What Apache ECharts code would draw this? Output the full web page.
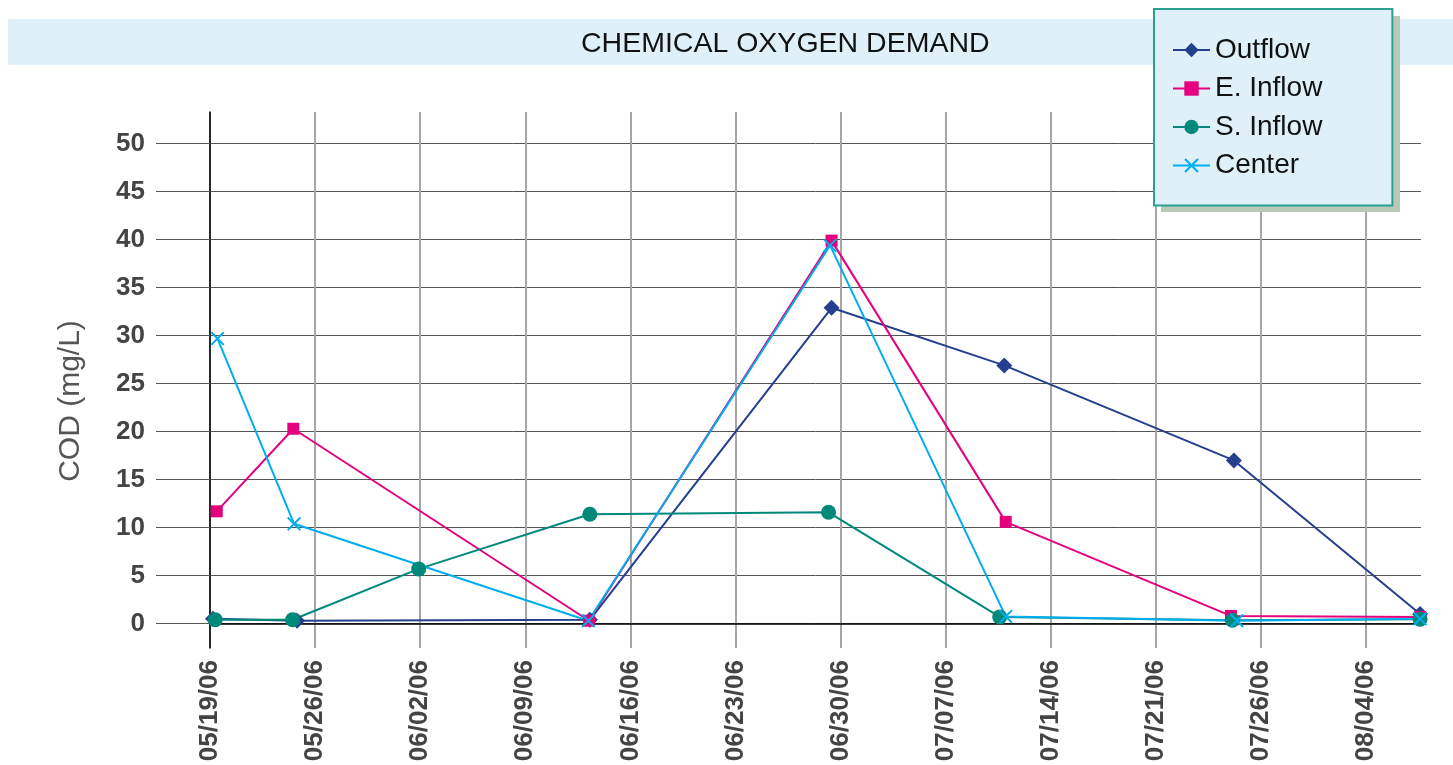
<!DOCTYPE html>
<html>
<head>
<meta charset="utf-8">
<script src="https://cdn.jsdelivr.net/npm/echarts@6/dist/echarts.min.js"></script>
<style>
html,body{margin:0;padding:0;background:#fff;}
#chart{width:1453px;height:765px;}
</style>
</head>
<body>
<div id="chart"></div>
<script>
// Days since 05/19/06 and COD (mg/L) values
const tickDays   = [0, 7, 14, 21, 28, 35, 42, 49, 56, 63, 70, 77];
const tickLabels = ['05/19/06','05/26/06','06/02/06','06/09/06','06/16/06','06/23/06',
                    '06/30/06','07/07/06','07/14/06','07/21/06','07/26/06','08/04/06'];
const yTicks     = [0, 5, 10, 15, 20, 25, 30, 35, 40, 45, 50];

const outflowDays  = [0.2, 5.8, 25.3, 41.4, 52.9, 68.2, 80.6];
const outflowVals  = [0.5, 0.3, 0.4, 32.9, 26.9, 17.0, 1.0];

const eInflowDays  = [0.45, 5.55, 25.25, 41.4, 53.0, 68.0, 80.6];
const eInflowVals  = [11.7, 20.3, 0.3, 39.9, 10.6, 0.8, 0.7];

const sInflowDays  = [0.35, 5.5, 13.9, 25.3, 41.2, 52.6, 68.1, 80.6];
const sInflowVals  = [0.4, 0.4, 5.7, 11.4, 11.6, 0.7, 0.35, 0.45];

const centerDays   = [0.5, 5.6, 25.2, 41.3, 53.0, 68.4, 80.6];
const centerVals   = [29.7, 10.4, 0.3, 39.4, 0.75, 0.3, 0.5];

const pairs = (d, v) => d.map((x, i) => [x, v[i]]);

const crossPath = 'path://M0,1L1,0L10,9L9,10ZM9,0L10,1L1,10L0,9Z';

const chart = echarts.init(document.getElementById('chart'), null, {renderer: 'canvas'});

const mk = (name, data, color, symbol, size) => ({
  name: name,
  type: 'line',
  data: data,
  symbol: symbol,
  symbolSize: size,
  showAllSymbol: true,
  clip: false,
  lineStyle: {color: color, width: 2},
  itemStyle: {color: color},
  emphasis: {disabled: true},
  animation: false
});

chart.setOption({
  animation: false,
  backgroundColor: '#ffffff',
  textStyle: {fontFamily: 'Liberation Sans'},
  graphic: [{
    type: 'rect', z: -10, silent: true,
    shape: {x: 8, y: 19, width: 1445, height: 46},
    style: {fill: '#dff0f8'}
  }, {
    type: 'rect', z: 3, silent: true,
    shape: {x: 1161, y: 16, width: 239, height: 196},
    style: {fill: '#b8c8b8'}
  }],
  title: {
    text: 'CHEMICAL OXYGEN DEMAND',
    left: 581, top: 27, padding: 0,
    textStyle: {fontFamily: 'Liberation Sans', fontSize: 28.5, fontWeight: 'normal', color: '#111', lineHeight: 34}
  },
  legend: {
    orient: 'vertical',
    left: 1154, top: 9,
    padding: [26, 70, 25, 18],
    itemGap: 8.5,
    itemWidth: 37, itemHeight: 18,
    z: 5,
    backgroundColor: '#dff0f8',
    borderColor: '#2aa08f', borderWidth: 2, borderRadius: 0,
    textStyle: {fontFamily: 'Liberation Sans', fontSize: 28, color: '#111', lineHeight: 30},
    data: ['Outflow', 'E. Inflow', 'S. Inflow', 'Center']
  },
  grid: {left: 210, right: 32, top: 112, bottom: 117, containLabel: false},
  xAxis: {
    type: 'value',
    min: 0, max: 80.66, interval: 7,
    axisLine: {onZero: true, lineStyle: {color: '#000', width: 1.5}},
    axisTick: {show: false, customValues: tickDays},
    splitLine: {show: true, lineStyle: {color: '#a6a6a6', width: 2}},
    axisLabel: {
      customValues: tickDays,
      rotate: 90, margin: 12,
      fontFamily: 'Liberation Sans', fontSize: 26, fontWeight: 'bold', color: '#444',
      formatter: v => { const i = tickDays.indexOf(v); return i >= 0 ? tickLabels[i] : ''; }
    }
  },
  yAxis: {
    type: 'value',
    min: -2.54, max: 53.3,
    name: 'COD (mg/L)', nameLocation: 'middle', nameGap: 124, nameRotate: 90,
    nameTextStyle: {fontFamily: 'Liberation Sans', fontSize: 30, color: '#555', padding: [0, 42, 0, 0]},
    axisLine: {show: true, lineStyle: {color: '#000', width: 1.5}},
    axisTick: {show: true, length: 54, customValues: yTicks, lineStyle: {color: '#555', width: 1}},
    splitLine: {show: true, lineStyle: {color: '#555', width: 1}},
    axisLabel: {
      customValues: yTicks, margin: 65,
      fontFamily: 'Liberation Sans', fontSize: 26, fontWeight: 'bold', color: '#444'
    }
  },
  series: [
    mk('Outflow',   pairs(outflowDays, outflowVals), '#253f8f', 'diamond', 16),
    mk('E. Inflow', pairs(eInflowDays, eInflowVals), '#e5007d', 'rect', 12),
    mk('S. Inflow', pairs(sInflowDays, sInflowVals), '#00897b', 'circle', 15),
    mk('Center',    pairs(centerDays, centerVals),   '#00aeef', crossPath, 14)
  ]
});
</script>
</body>
</html>
